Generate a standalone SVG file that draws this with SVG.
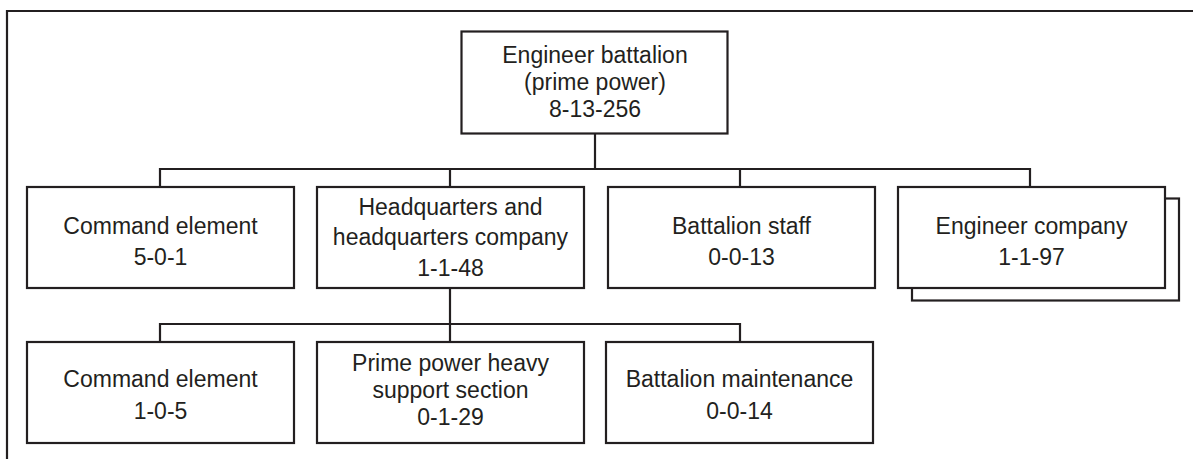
<svg xmlns="http://www.w3.org/2000/svg" width="1193" height="459" viewBox="0 0 1193 459">
  <style>
    .box { fill: #ffffff; stroke: #231f20; stroke-width: 2.2; }
    .wire { fill: none; stroke: #231f20; stroke-width: 2.2; }
    .lbl { font-family: "Liberation Sans", Arial, sans-serif; font-size: 23px; fill: #231f20; text-anchor: middle; }
  </style>
  <rect width="1193" height="459" fill="#ffffff"/>
  <!-- outer frame, open to the right and bottom -->
  <path class="wire" d="M7,459 V11 H1193"/>

  <g id="connectors">
    <path class="wire" d="M595,134 V169"/>
    <path class="wire" d="M160,187 V169 H1030 V187"/>
    <path class="wire" d="M450,169 V187"/>
    <path class="wire" d="M740,169 V187"/>
    <path class="wire" d="M450,288 V324"/>
    <path class="wire" d="M160,342 V324 H740 V342"/>
    <path class="wire" d="M450,324 V342"/>
  </g>

  <g id="battalion">
    <rect class="box" x="461.5" y="31.5" width="266" height="102"/>
    <text class="lbl" x="595" y="63">Engineer battalion</text>
    <text class="lbl" x="595" y="90">(prime power)</text>
    <text class="lbl" x="595" y="116.5">8-13-256</text>
  </g>

  <g id="command-element">
    <rect class="box" x="27" y="187" width="267" height="101"/>
    <text class="lbl" x="160.5" y="234">Command element</text>
    <text class="lbl" x="160.5" y="264.5">5-0-1</text>
  </g>

  <g id="hhc">
    <rect class="box" x="317" y="187" width="267" height="101"/>
    <text class="lbl" x="450.5" y="214.5">Headquarters and</text>
    <text class="lbl" x="450.5" y="245">headquarters company</text>
    <text class="lbl" x="450.5" y="276">1-1-48</text>
  </g>

  <g id="battalion-staff">
    <rect class="box" x="608" y="187" width="267" height="101"/>
    <text class="lbl" x="741.5" y="234">Battalion staff</text>
    <text class="lbl" x="741.5" y="264.5">0-0-13</text>
  </g>

  <g id="engineer-company">
    <rect class="box" x="912" y="198.5" width="267" height="102"/>
    <rect class="box" x="898" y="187" width="267" height="101"/>
    <text class="lbl" x="1031.5" y="234">Engineer company</text>
    <text class="lbl" x="1031.5" y="264.5">1-1-97</text>
  </g>

  <g id="hhc-command-element">
    <rect class="box" x="27" y="342" width="267" height="101"/>
    <text class="lbl" x="160.5" y="387">Command element</text>
    <text class="lbl" x="160.5" y="419">1-0-5</text>
  </g>

  <g id="heavy-support">
    <rect class="box" x="317" y="342" width="267" height="101"/>
    <text class="lbl" x="450.5" y="371">Prime power heavy</text>
    <text class="lbl" x="450.5" y="398">support section</text>
    <text class="lbl" x="450.5" y="425">0-1-29</text>
  </g>

  <g id="battalion-maintenance">
    <rect class="box" x="606" y="342" width="267" height="101"/>
    <text class="lbl" x="739.5" y="387">Battalion maintenance</text>
    <text class="lbl" x="739.5" y="419">0-0-14</text>
  </g>
</svg>
